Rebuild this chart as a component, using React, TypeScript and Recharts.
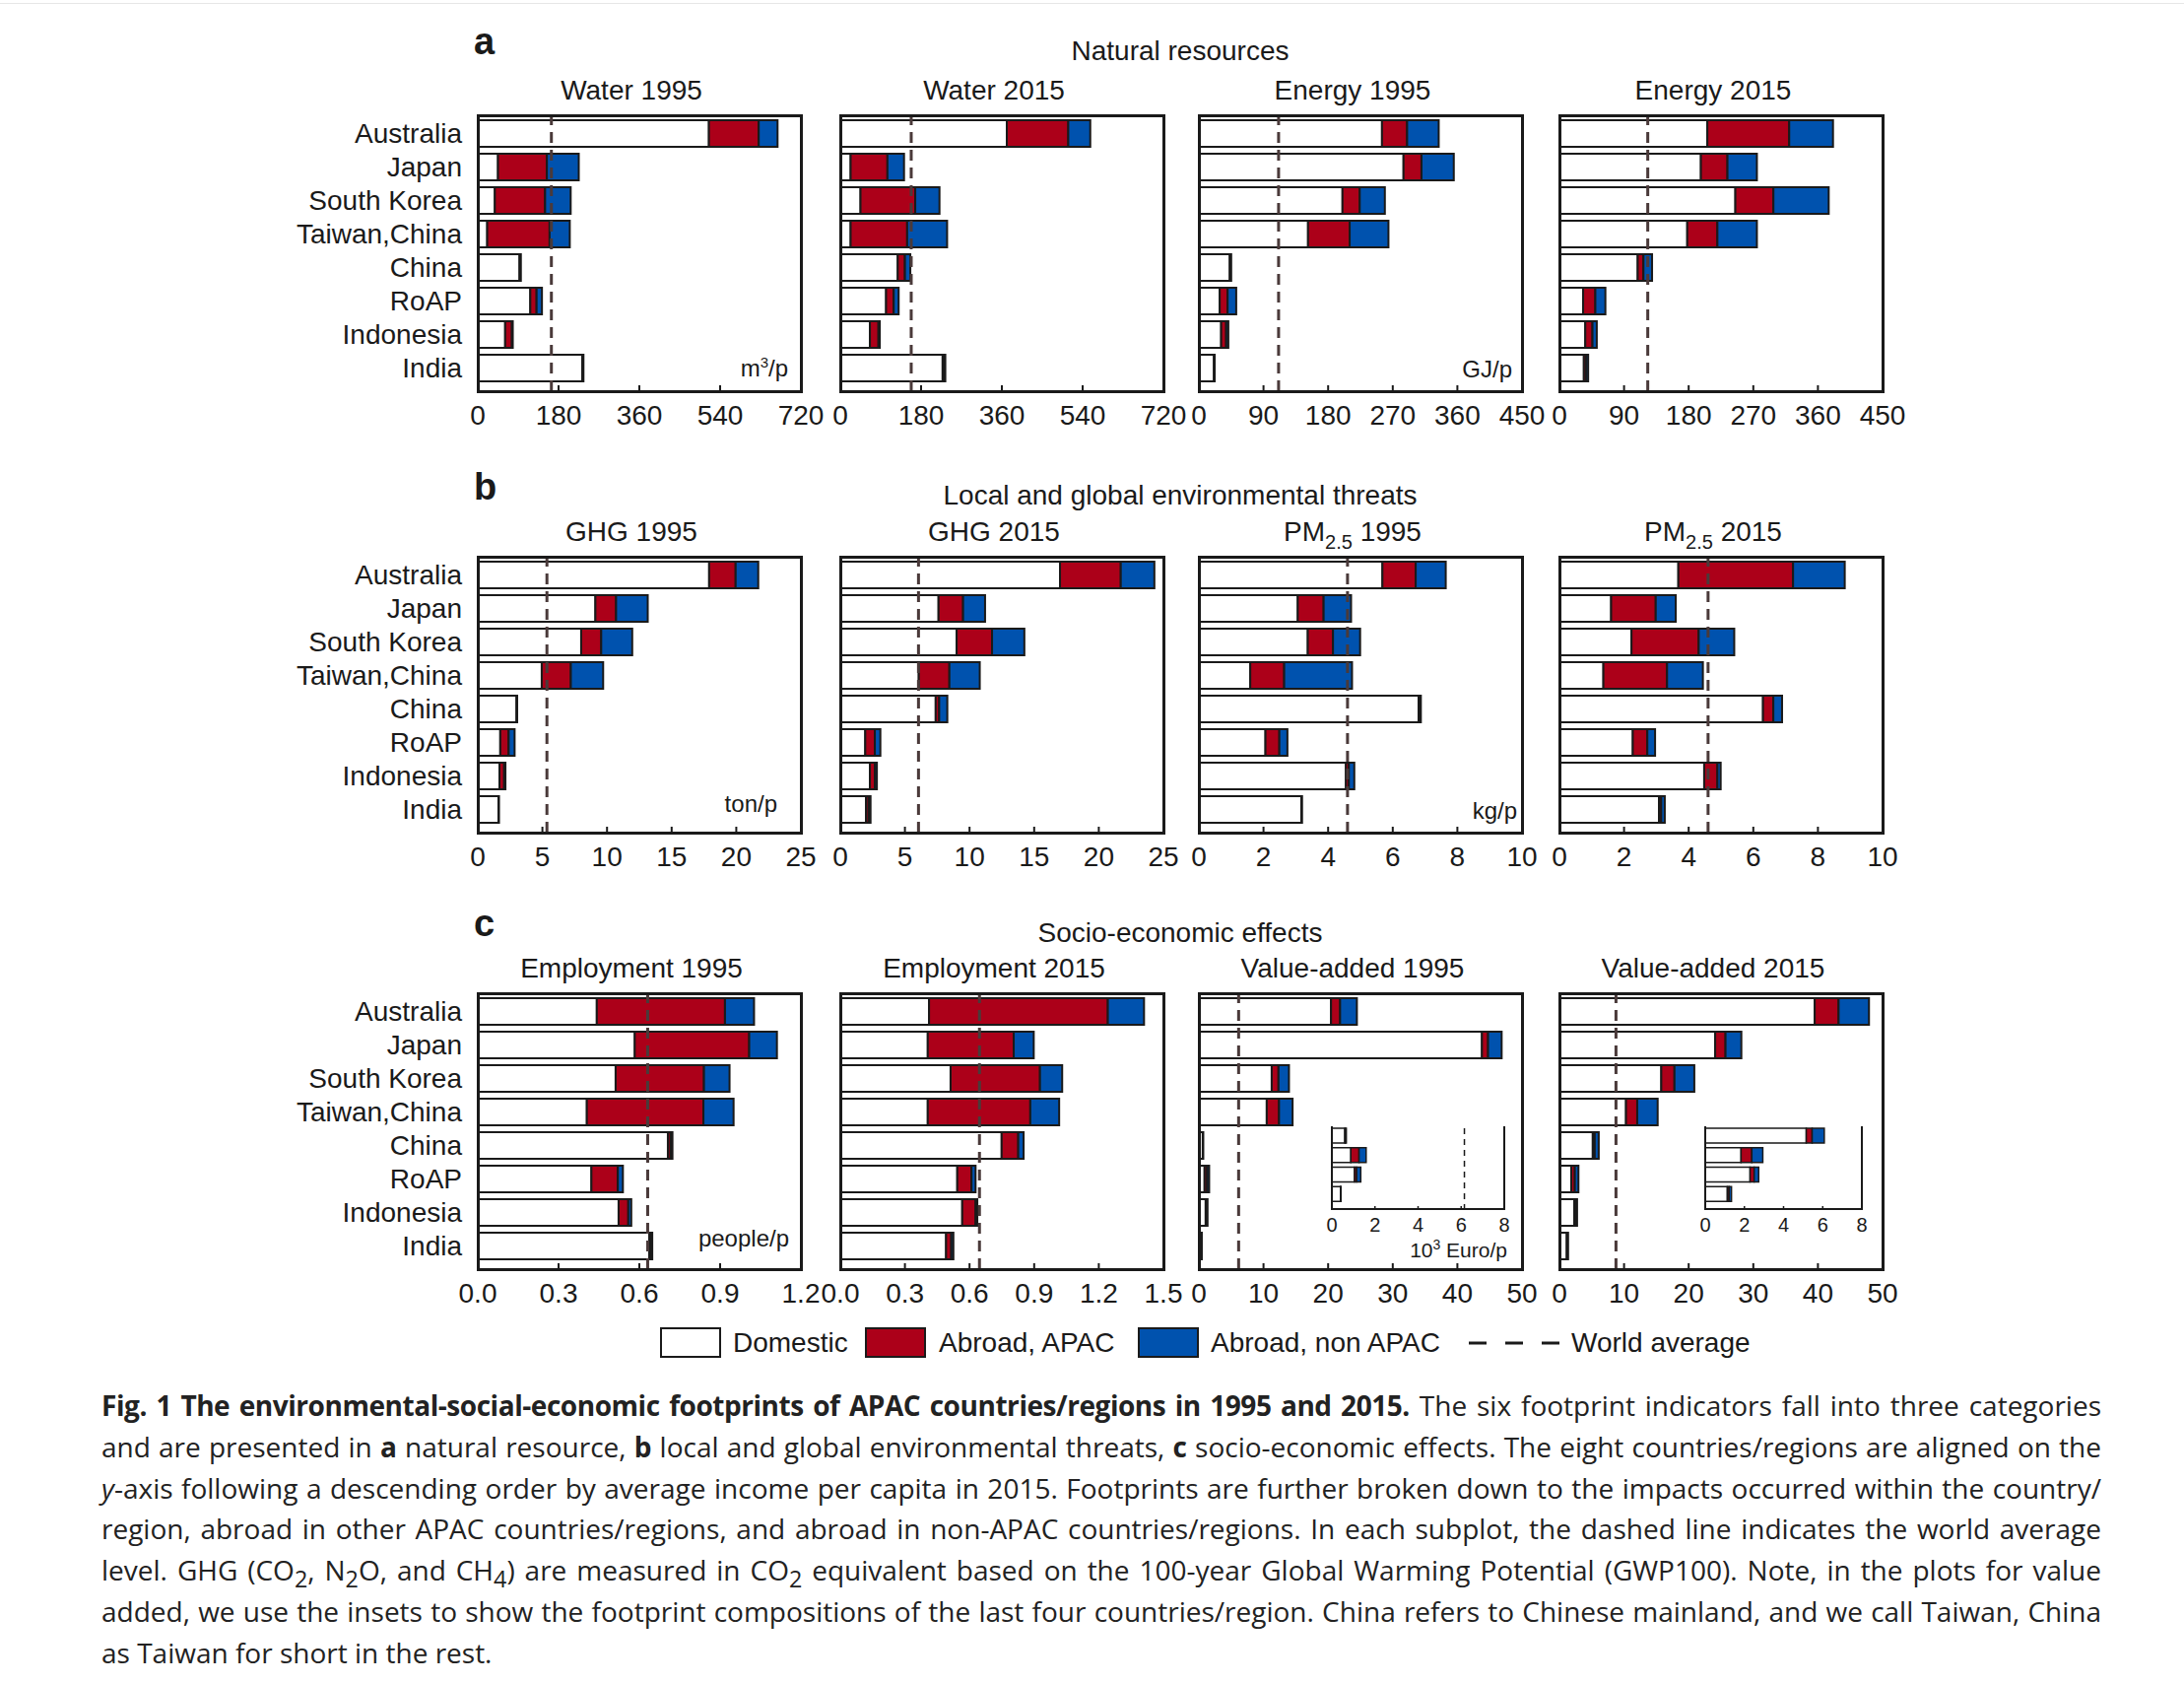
import React from 'react';
import { BarChart, Bar, XAxis, YAxis, ReferenceLine } from 'recharts';

const countries = ['Australia', 'Japan', 'South Korea', 'Taiwan,China', 'China', 'RoAP', 'Indonesia', 'India'];

// a — natural resources
const water1995Dom = [515, 45, 38, 21, 93, 117, 61, 233];
const water1995Apac = [111, 109, 112, 139, 1.5, 14, 15, 1.5];
const water1995Non = [42, 71, 57, 45, 1.5, 12, 2, 1];
const water1995Avg = 164;

const water2015Dom = [371, 23, 45, 23, 128, 102, 66, 228];
const water2015Apac = [137, 82, 122, 126, 16, 17, 19, 4];
const water2015Non = [49, 37, 54, 89, 12, 11, 3, 2];
const water2015Avg = 158;

const energy1995Dom = [255, 285, 200, 152, 43, 29, 31, 21];
const energy1995Apac = [35, 25, 24, 58, 1, 11, 7, 0.5];
const energy1995Non = [44, 45, 35, 54, 1, 12, 3, 0.5];
const energy1995Avg = 111;

const energy2015Dom = [206, 197, 245, 178, 109, 33, 36, 34];
const energy2015Apac = [114, 37, 53, 42, 8, 17, 10, 3];
const energy2015Non = [61, 41, 77, 55, 12, 14, 6, 3];
const energy2015Avg = 123;

// b — environmental threats
const ghg1995Dom = [17.9, 9.1, 8.0, 4.95, 3.0, 1.74, 1.68, 1.6];
const ghg1995Apac = [2.05, 1.6, 1.55, 2.25, 0.03, 0.65, 0.36, 0.02];
const ghg1995Non = [1.75, 2.45, 2.4, 2.5, 0.02, 0.46, 0.1, 0.01];
const ghg1995Avg = 5.35;

const ghg2015Dom = [17.0, 7.6, 9.0, 6.07, 7.38, 1.93, 2.29, 1.99];
const ghg2015Apac = [4.7, 1.9, 2.74, 2.37, 0.27, 0.74, 0.38, 0.2];
const ghg2015Non = [2.6, 1.7, 2.5, 2.35, 0.63, 0.43, 0.16, 0.15];
const ghg2015Avg = 6.05;

const pm1995Dom = [5.68, 3.06, 3.37, 1.59, 6.8, 2.06, 4.55, 3.17];
const pm1995Apac = [1.03, 0.8, 0.78, 1.05, 0.04, 0.43, 0.09, 0.01];
const pm1995Non = [0.93, 0.85, 0.84, 2.1, 0.03, 0.25, 0.17, 0.01];
const pm1995Avg = 4.6;

const pm2015Dom = [3.68, 1.6, 2.23, 1.36, 6.3, 2.27, 4.48, 3.08];
const pm2015Apac = [3.55, 1.38, 2.08, 1.97, 0.32, 0.45, 0.41, 0.07];
const pm2015Non = [1.6, 0.62, 1.1, 1.11, 0.27, 0.24, 0.1, 0.11];
const pm2015Avg = 4.6;

// c — socio-economic effects
const emp1995Dom = [0.442, 0.583, 0.512, 0.405, 0.706, 0.422, 0.523, 0.637];
const emp1995Apac = [0.476, 0.425, 0.328, 0.433, 0.01, 0.098, 0.036, 0.007];
const emp1995Non = [0.108, 0.103, 0.095, 0.112, 0.007, 0.019, 0.011, 0.004];
const emp1995Avg = 0.631;

const emp2015Dom = [0.412, 0.406, 0.512, 0.406, 0.749, 0.543, 0.566, 0.491];
const emp2015Apac = [0.83, 0.399, 0.415, 0.476, 0.077, 0.066, 0.062, 0.024];
const emp2015Non = [0.168, 0.093, 0.103, 0.134, 0.025, 0.019, 0.008, 0.01];
const emp2015Avg = 0.646;

const va1995Dom = [20.45, 43.8, 11.27, 10.5, 0.6, 0.88, 1.05, 0.4];
const va1995Apac = [1.4, 0.95, 1.05, 1.9, 0.03, 0.38, 0.1, 0.01];
const va1995Non = [2.6, 2.1, 1.62, 2.1, 0.04, 0.33, 0.19, 0.01];
const va1995Avg = 6.15;

const va2015Dom = [39.5, 24.1, 15.76, 10.3, 5.16, 1.83, 2.29, 1.13];
const va2015Apac = [3.7, 1.6, 2.04, 1.74, 0.3, 0.55, 0.21, 0.09];
const va2015Non = [4.7, 2.45, 3.07, 3.16, 0.62, 0.56, 0.23, 0.12];
const va2015Avg = 8.75;

const waterTicks = [0, 180, 360, 540, 720];
const energyTicks = [0, 90, 180, 270, 360, 450];
const ghgTicks = [0, 5, 10, 15, 20, 25];
const pmTicks = [0, 2, 4, 6, 8, 10];
const emp1995Ticks = [0, 0.3, 0.6, 0.9, 1.2];
const emp2015Ticks = [0, 0.3, 0.6, 0.9, 1.2, 1.5];
const vaTicks = [0, 10, 20, 30, 40, 50];
const insetTicks = [0, 2, 4, 6, 8];

const RED = '#AC0019';
const BLUE = '#0052AE';
const INK = '#1a1a1a';
const AVG = '#4a3a3a';
const FONT = '"Liberation Sans", Arial, Helvetica, sans-serif';

const BOX_W = 328;
const BOX_H = 280;
const LABEL_W = 300;
const SIDE = 40;
const AXIS_H = 50;
const colLefts = [485, 853, 1217, 1583];
const rowTops = [117, 565, 1008];

const rows = (dom: number[], apac: number[], non: number[], from = 0) =>
  countries.slice(from).map((country, i) => ({
    country,
    dom: dom[i + from],
    apac: apac[i + from],
    non: non[i + from],
  }));

type PanelDef = {
  title: React.ReactNode;
  dom: number[];
  apac: number[];
  non: number[];
  avg: number;
  ticks: number[];
  digits?: number;
  unit?: React.ReactNode;
  unitRight?: number;
  unitY?: number;
  inset?: { left: number; width: number; dashed: boolean; unit?: React.ReactNode };
};

const pm = (year: string) => (
  <>PM<sub style={{ fontSize: 20, verticalAlign: -8 }}>2.5</sub> {year}</>
);

const panelRows: PanelDef[][] = [
  [
    { title: 'Water 1995', dom: water1995Dom, apac: water1995Apac, non: water1995Non, avg: water1995Avg, ticks: waterTicks, unit: <>m<sup style={{ fontSize: 15 }}>3</sup>/p</>, unitRight: 13, unitY: 251 },
    { title: 'Water 2015', dom: water2015Dom, apac: water2015Apac, non: water2015Non, avg: water2015Avg, ticks: waterTicks },
    { title: 'Energy 1995', dom: energy1995Dom, apac: energy1995Apac, non: energy1995Non, avg: energy1995Avg, ticks: energyTicks, unit: 'GJ/p', unitRight: 10, unitY: 258 },
    { title: 'Energy 2015', dom: energy2015Dom, apac: energy2015Apac, non: energy2015Non, avg: energy2015Avg, ticks: energyTicks },
  ],
  [
    { title: 'GHG 1995', dom: ghg1995Dom, apac: ghg1995Apac, non: ghg1995Non, avg: ghg1995Avg, ticks: ghgTicks, unit: 'ton/p', unitRight: 24, unitY: 251 },
    { title: 'GHG 2015', dom: ghg2015Dom, apac: ghg2015Apac, non: ghg2015Non, avg: ghg2015Avg, ticks: ghgTicks },
    { title: pm('1995'), dom: pm1995Dom, apac: pm1995Apac, non: pm1995Non, avg: pm1995Avg, ticks: pmTicks, unit: 'kg/p', unitRight: 5, unitY: 258 },
    { title: pm('2015'), dom: pm2015Dom, apac: pm2015Apac, non: pm2015Non, avg: pm2015Avg, ticks: pmTicks },
  ],
  [
    { title: 'Employment 1995', dom: emp1995Dom, apac: emp1995Apac, non: emp1995Non, avg: emp1995Avg, ticks: emp1995Ticks, digits: 1, unit: 'people/p', unitRight: 12, unitY: 249 },
    { title: 'Employment 2015', dom: emp2015Dom, apac: emp2015Apac, non: emp2015Non, avg: emp2015Avg, ticks: emp2015Ticks, digits: 1 },
    { title: 'Value-added 1995', dom: va1995Dom, apac: va1995Apac, non: va1995Non, avg: va1995Avg, ticks: vaTicks, inset: { left: 1352, width: 175, dashed: true, unit: <>10<sup style={{ fontSize: 14 }}>3</sup> Euro/p</> } },
    { title: 'Value-added 2015', dom: va2015Dom, apac: va2015Apac, non: va2015Non, avg: va2015Avg, ticks: vaTicks, inset: { left: 1731, width: 159, dashed: false } },
  ],
];

const sections = [
  { letter: 'a', name: 'Natural resources', y: 52, letterY: 42 },
  { letter: 'b', name: 'Local and global environmental threats', y: 503, letterY: 494 },
  { letter: 'c', name: 'Socio-economic effects', y: 947, letterY: 937 },
];

const abs = (extra: React.CSSProperties): React.CSSProperties => ({ position: 'absolute', ...extra });

const Inset: React.FC<{ def: PanelDef; boxTop: number }> = ({ def, boxTop }) => {
  const inset = def.inset!;
  const top = boxTop + 135;
  const h = 85;
  const axisH = 34;
  const data = rows(def.dom, def.apac, def.non, 4);
  return (
    <>
      <div style={abs({ left: inset.left - 20, top, width: inset.width + 40, height: h + axisH })}>
        <BarChart width={inset.width + 40} height={h + axisH} data={data} layout="vertical" barSize={15}
          margin={{ top: 0, right: 20, bottom: 0, left: 20 }}>
          <XAxis type="number" domain={[0, 8]} ticks={insetTicks} interval={0} height={axisH}
            axisLine={false} tickSize={-4} tickMargin={12} tickLine={{ stroke: INK, strokeWidth: 1.5 }}
            tick={{ fill: INK, fontSize: 20, fontFamily: FONT }} />
          <YAxis type="category" dataKey="country" hide padding={{ top: 0, bottom: 6 }} />
          <Bar dataKey="dom" stackId="s" fill="#fff" stroke={INK} strokeWidth={1.5} isAnimationActive={false} />
          <Bar dataKey="apac" stackId="s" fill={RED} stroke={INK} strokeWidth={1.5} isAnimationActive={false} />
          <Bar dataKey="non" stackId="s" fill={BLUE} stroke={INK} strokeWidth={1.5} isAnimationActive={false} />
          {inset.dashed && (
            <ReferenceLine x={def.avg} stroke={INK} strokeWidth={1.5} strokeDasharray="6 5" ifOverflow="discard" />
          )}
        </BarChart>
      </div>
      <div style={abs({ left: inset.left - 1, top, width: inset.width + 2, height: h, borderLeft: `2px solid ${INK}`, borderRight: `2px solid ${INK}`, borderBottom: `2px solid ${INK}`, boxSizing: 'border-box', pointerEvents: 'none' })} />
      {inset.unit && (
        <div style={abs({ left: inset.left + inset.width - 190, width: 193, top: top + h + 23, fontSize: 21, lineHeight: '24px', textAlign: 'right', fontFamily: FONT, color: INK })}>
          {inset.unit}
        </div>
      )}
    </>
  );
};

const Panel: React.FC<{ def: PanelDef; left: number; top: number; labels: boolean }> = ({ def, left, top, labels }) => {
  const ml = labels ? LABEL_W : SIDE;
  const w = BOX_W + ml + SIDE;
  const h = BOX_H + AXIS_H;
  const data = rows(def.dom, def.apac, def.non);
  const max = def.ticks[def.ticks.length - 1];
  const fmt = (v: number) => (def.digits ? v.toFixed(def.digits) : String(v));
  return (
    <>
      <div style={abs({ left: left - ml, top, width: w, height: h })}>
        <BarChart width={w} height={h} data={data} layout="vertical" barSize={27}
          margin={{ top: 0, right: SIDE, bottom: 0, left: labels ? 0 : SIDE }}>
          <XAxis type="number" domain={[0, max]} ticks={def.ticks} interval={0} height={AXIS_H}
            axisLine={false} tickSize={-6} tickMargin={20} tickLine={{ stroke: INK, strokeWidth: 2 }}
            tick={{ fill: INK, fontSize: 28, fontFamily: FONT }} tickFormatter={fmt} />
          <YAxis type="category" dataKey="country" hide={!labels} width={labels ? LABEL_W : 0}
            axisLine={false} tickLine={false} tickSize={0} tickMargin={16} interval={0}
            padding={{ top: 1, bottom: 7 }}
            tick={{ fill: INK, fontSize: 28, fontFamily: FONT }} />
          <Bar dataKey="dom" stackId="s" fill="#fff" stroke={INK} strokeWidth={2} isAnimationActive={false} />
          <Bar dataKey="apac" stackId="s" fill={RED} stroke={INK} strokeWidth={2} isAnimationActive={false} />
          <Bar dataKey="non" stackId="s" fill={BLUE} stroke={INK} strokeWidth={2} isAnimationActive={false} />
          <ReferenceLine x={def.avg} stroke={AVG} strokeWidth={3} strokeDasharray="11 7" />
        </BarChart>
      </div>
      <div style={abs({ left: left - 1.5, top: top - 1.5, width: BOX_W + 3, height: BOX_H + 3, border: `3px solid ${INK}`, boxSizing: 'border-box', pointerEvents: 'none' })} />
      <div style={abs({ left: left - 8 - 50, width: BOX_W + 100, top: top - 39, fontSize: 28, lineHeight: '28px', textAlign: 'center', fontFamily: FONT, color: INK, whiteSpace: 'nowrap' })}>
        {def.title}
      </div>
      {def.unit && (
        <div style={abs({ left: left, width: BOX_W - (def.unitRight ?? 10), top: top + (def.unitY ?? 255) - 14, fontSize: 24, lineHeight: '28px', textAlign: 'right', fontFamily: FONT, color: INK })}>
          {def.unit}
        </div>
      )}
      {def.inset && <Inset def={def} boxTop={top} />}
    </>
  );
};

const legendItems = [
  { label: 'Domestic', fill: '#fff', box: 670, text: 744 },
  { label: 'Abroad, APAC', fill: RED, box: 878, text: 953 },
  { label: 'Abroad, non APAC', fill: BLUE, box: 1155, text: 1229 },
];

const boldStyle: React.CSSProperties = { fontSize: 28, letterSpacing: -0.45 };

const captionLines: React.ReactNode[] = [
  <><b style={boldStyle}>Fig. 1 The environmental-social-economic footprints of APAC countries/regions in 1995 and 2015.</b> The six footprint indicators fall into three categories</>,
  <>and are presented in <b>a</b> natural resource, <b>b</b> local and global environmental threats, <b>c</b> socio-economic effects. The eight countries/regions are aligned on the</>,
  <><i>y</i>-axis following a descending order by average income per capita in 2015. Footprints are further broken down to the impacts occurred within the country/</>,
  <>region, abroad in other APAC countries/regions, and abroad in non-APAC countries/regions. In each subplot, the dashed line indicates the world average</>,
  <>level. GHG (CO<sub>2</sub>, N<sub>2</sub>O, and CH<sub>4</sub>) are measured in CO<sub>2</sub> equivalent based on the 100-year Global Warming Potential (GWP100). Note, in the plots for value</>,
  <>added, we use the insets to show the footprint compositions of the last four countries/region. China refers to Chinese mainland, and we call Taiwan, China</>,
  <>as Taiwan for short in the rest.</>,
];

const App: React.FC = () => {
  const legendY = 1363;
  return (
    <div style={abs({ left: 0, top: 0, width: 2217, height: 1708, background: '#fff', overflow: 'hidden', fontFamily: FONT, color: INK })}>
      <div style={abs({ left: 0, top: 3, width: 2217, height: 1, background: '#e6e6e6' })} />
      {sections.map((s) => (
        <React.Fragment key={s.letter}>
          <div style={abs({ left: 481, top: s.letterY - 20, fontSize: 38, lineHeight: '40px', fontWeight: 'bold' })}>{s.letter}</div>
          <div style={abs({ left: 698, width: 1000, top: s.y - 14, fontSize: 28, lineHeight: '28px', textAlign: 'center' })}>{s.name}</div>
        </React.Fragment>
      ))}
      {panelRows.map((row, r) =>
        row.map((def, c) => (
          <Panel key={`${r}-${c}`} def={def} left={colLefts[c]} top={rowTops[r]} labels={c === 0} />
        )),
      )}
      {legendItems.map((it) => (
        <React.Fragment key={it.label}>
          <div style={abs({ left: it.box, top: legendY - 16, width: 62, height: 31, background: it.fill, border: `2px solid ${INK}`, boxSizing: 'border-box' })} />
          <div style={abs({ left: it.text, top: legendY - 15, fontSize: 28, lineHeight: '30px', whiteSpace: 'nowrap' })}>{it.label}</div>
        </React.Fragment>
      ))}
      <svg style={abs({ left: 1491, top: legendY - 3, width: 92, height: 6 })} width={92} height={6}>
        <line x1={0} y1={3} x2={92} y2={3} stroke={INK} strokeWidth={3} strokeDasharray="18 19" />
      </svg>
      <div style={abs({ left: 1595, top: legendY - 15, fontSize: 28, lineHeight: '30px', whiteSpace: 'nowrap' })}>World average</div>
      <div style={abs({ left: 103, top: 1406, width: 2030, fontFamily: '"Open Sans", "Noto Sans", sans-serif', fontSize: 28, color: '#222' })}>
        {captionLines.map((line, i) => (
          <div key={i} style={{ height: 41.8, lineHeight: '41.8px', whiteSpace: 'nowrap', textAlign: i < captionLines.length - 1 ? 'justify' : 'left', textAlignLast: i < captionLines.length - 1 ? 'justify' : 'left' }}>
            {line}
          </div>
        ))}
      </div>
    </div>
  );
};

export default App;
